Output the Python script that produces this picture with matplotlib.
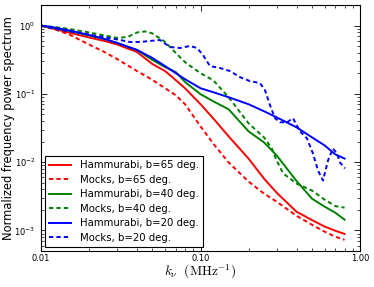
import numpy as np
import matplotlib
matplotlib.use('Agg')
import matplotlib.pyplot as plt
from matplotlib.ticker import LogLocator, FixedLocator, FixedFormatter

# common k grid (MHz^-1) for the smooth curves
k_grid = [0.01, 0.012, 0.015, 0.02, 0.025, 0.03, 0.04, 0.05, 0.06, 0.07, 0.08,
          0.1, 0.12, 0.15, 0.2, 0.25, 0.3, 0.4, 0.5, 0.6, 0.7, 0.8]

ham_65 = [1.0, 0.90, 0.79, 0.67, 0.596, 0.529, 0.41, 0.273, 0.216, 0.159, 0.121,
          0.0706, 0.044, 0.0239, 0.0113, 0.00575, 0.00358, 0.00188, 0.00142,
          0.00114, 0.00099, 0.00089]
mock_65 = [1.0, 0.894, 0.742, 0.529, 0.41, 0.324, 0.216, 0.16, 0.121, 0.0957,
           0.0706, 0.0335, 0.0188, 0.0099, 0.0052, 0.00347, 0.00264, 0.00164,
           0.00121, 0.00096, 0.00081, 0.00073]
ham_40 = [1.0, 0.925, 0.836, 0.718, 0.637, 0.557, 0.44, 0.313, 0.247, 0.209,
          0.149, 0.099, 0.078, 0.0596, 0.0283, 0.0195, 0.0126, 0.0053, 0.00292,
          0.00223, 0.00182, 0.00144]
ham_20 = [1.0, 0.941, 0.85, 0.73, 0.637, 0.557, 0.44, 0.335, 0.255, 0.201, 0.164,
          0.121, 0.106, 0.0894, 0.0706, 0.0557, 0.0454, 0.0324, 0.0231, 0.0176,
          0.013, 0.0113]

k_mock_40 = [0.01, 0.012, 0.015, 0.02, 0.025, 0.03, 0.035, 0.04, 0.045, 0.05,
             0.06, 0.07, 0.08, 0.09, 0.1, 0.12, 0.15, 0.2, 0.25, 0.28, 0.3, 0.33,
             0.4, 0.5, 0.6, 0.7, 0.8]
mock_40 = [1.0, 0.957, 0.894, 0.794, 0.718, 0.66, 0.682, 0.794, 0.822, 0.768,
           0.576, 0.397, 0.292, 0.239, 0.201, 0.159, 0.0894, 0.0371, 0.0231,
           0.0159, 0.0106, 0.00683, 0.00486, 0.00384, 0.00283, 0.00227, 0.00216]

k_mock_20 = [0.01, 0.0132, 0.0176, 0.0234, 0.0313, 0.0361, 0.0418, 0.0483,
             0.0557, 0.0644, 0.0744, 0.0859, 0.0951, 0.1037, 0.1147, 0.1325,
             0.1531, 0.1768, 0.2043, 0.236, 0.2537, 0.2727, 0.293, 0.315,
             0.3487, 0.38, 0.4205, 0.4652, 0.507, 0.5454, 0.586, 0.63, 0.677,
             0.717, 0.749, 0.805]
mock_20 = [1.0, 0.865, 0.78, 0.694, 0.616, 0.576, 0.576, 0.596, 0.616, 0.486,
           0.47, 0.503, 0.47, 0.371, 0.255, 0.239, 0.216, 0.176, 0.154, 0.144,
           0.113, 0.0682, 0.044, 0.0384, 0.0384, 0.044, 0.0283, 0.0223, 0.0134,
           0.00755, 0.00538, 0.0106, 0.0158, 0.0134, 0.0099, 0.0081]

labels = ['Hammurabi, b=65 deg.', 'Mocks, b=65 deg.',
          'Hammurabi, b=40 deg.', 'Mocks, b=40 deg.',
          'Hammurabi, b=20 deg.', 'Mocks, b=20 deg.']

dash = (0, (2.2, 1.6))
lw = 1.4

fig = plt.figure(figsize=(3.74, 2.87), dpi=100)
ax = fig.add_axes([0.1096, 0.1254, 0.853, 0.857])

ax.plot(k_grid, ham_65, color='r', lw=lw, label=labels[0])
ax.plot(k_grid, mock_65, color='r', lw=lw, ls=dash, label=labels[1])
ax.plot(k_grid, ham_40, color='g', lw=lw, label=labels[2])
ax.plot(k_mock_40, mock_40, color='g', lw=lw, ls=dash, label=labels[3])
ax.plot(k_grid, ham_20, color='b', lw=lw, label=labels[4])
ax.plot(k_mock_20, mock_20, color='b', lw=lw, ls=dash, label=labels[5])

ax.set_xscale('log')
ax.set_yscale('log')
ax.set_xlim(0.01, 1.0)
ax.set_ylim(5e-4, 2.0)

ax.xaxis.set_major_locator(FixedLocator([0.01, 0.1, 1.0]))
ax.xaxis.set_major_formatter(FixedFormatter(['0.01', '0.10', '1.00']))
ax.xaxis.set_minor_locator(LogLocator(base=10, subs=np.arange(2, 10)))
ax.yaxis.set_major_locator(LogLocator(base=10))
ax.yaxis.set_minor_locator(LogLocator(base=10, subs=np.arange(2, 10)))

ax.tick_params(which='both', direction='in', top=True, right=True, labelsize=6)
ax.tick_params(which='major', length=4, width=0.6)
ax.tick_params(which='minor', length=2, width=0.5)
ax.tick_params(axis='x', pad=2)
ax.tick_params(axis='y', pad=4)
for s in ax.spines.values():
    s.set_linewidth(0.8)

ax.set_ylabel('Normalized frequency power spectrum', fontsize=8.3)
ax.yaxis.set_label_coords(-0.08, 0.5)
ax.set_xlabel(r'$k_{\nu}\ \ (\mathrm{MHz}^{-1})$', fontsize=9.5, math_fontfamily='cm',
              labelpad=0)

leg = ax.legend(loc='lower left', fontsize=7.3, fancybox=False, framealpha=1,
                edgecolor='k', borderaxespad=0.4, borderpad=0.4,
                handlelength=2.2, labelspacing=0.45)
leg.get_frame().set_linewidth(0.8)

fig.savefig('out.png', dpi=100)
